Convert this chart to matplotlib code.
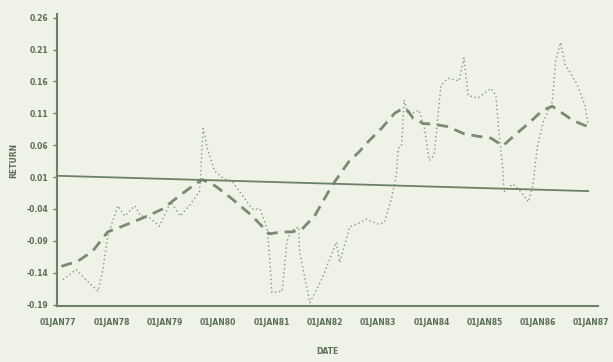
import matplotlib
matplotlib.use("Agg")
from matplotlib import pyplot as plt
import numpy as np

# monthly return series (decimal years) and its smoothed trend
ret_years = [1977.09, 1977.34, 1977.52, 1977.75, 1977.84, 1977.93, 1978.12, 1978.25,
             1978.44, 1978.55, 1978.68, 1978.90, 1979.11, 1979.29, 1979.46, 1979.65,
             1979.67, 1979.71, 1979.72, 1979.80, 1979.93, 1980.12, 1980.26, 1980.64,
             1980.79, 1980.92, 1980.96, 1981.01, 1981.20, 1981.29, 1981.35, 1981.51,
             1981.53, 1981.72, 1981.94, 1982.22, 1982.28, 1982.47, 1982.60, 1982.78,
             1983.01, 1983.12, 1983.25, 1983.34, 1983.38, 1983.44, 1983.49, 1983.57,
             1983.77, 1983.87, 1983.96, 1984.05, 1984.18, 1984.31, 1984.52, 1984.61,
             1984.69, 1984.87, 1985.12, 1985.21, 1985.26, 1985.34, 1985.36, 1985.53,
             1985.68, 1985.82, 1985.90, 1985.99, 1986.10, 1986.27, 1986.33, 1986.42,
             1986.51, 1986.61, 1986.74, 1986.88, 1986.94]
ret_values = [-0.151, -0.135, -0.151, -0.169, -0.135, -0.083, -0.035, -0.051,
              -0.035, -0.051, -0.051, -0.067, -0.029, -0.051, -0.035, -0.013,
              0.007, 0.075, 0.086, 0.055, 0.020, 0.007, 0.004, -0.040,
              -0.040, -0.072, -0.108, -0.171, -0.169, -0.092, -0.076, -0.068,
              -0.108, -0.187, -0.151, -0.092, -0.124, -0.068, -0.064, -0.056,
              -0.064, -0.061, -0.024, 0.012, 0.055, 0.059, 0.131, 0.107,
              0.115, 0.086, 0.036, 0.044, 0.154, 0.165, 0.161, 0.197,
              0.138, 0.134, 0.149, 0.138, 0.086, 0.023, -0.013, -0.001,
              -0.013, -0.029, -0.004, 0.059, 0.097, 0.129, 0.192, 0.221,
              0.186, 0.173, 0.154, 0.123, 0.091]

trend_years = [1977.06, 1977.37, 1977.65, 1977.93, 1978.21, 1978.68, 1978.96, 1979.28,
               1979.57, 1979.71, 1979.95, 1980.26, 1980.64, 1980.96, 1981.20, 1981.38,
               1981.57, 1981.81, 1982.07, 1982.19, 1982.45, 1982.65, 1982.82, 1983.06,
               1983.31, 1983.47, 1983.57, 1983.66, 1983.85, 1984.05, 1984.31, 1984.61,
               1984.87, 1985.12, 1985.34, 1985.54, 1985.86, 1986.09, 1986.27, 1986.46,
               1986.65, 1986.79, 1986.94]
trend_values = [-0.130, -0.122, -0.106, -0.076, -0.067, -0.051, -0.040, -0.019,
                -0.001, 0.006, -0.004, -0.024, -0.051, -0.079, -0.076, -0.076,
                -0.072, -0.051, -0.013, 0.003, 0.034, 0.050, 0.066, 0.086,
                0.110, 0.118, 0.113, 0.102, 0.094, 0.093, 0.089, 0.078,
                0.074, 0.071, 0.059, 0.074, 0.097, 0.115, 0.121, 0.110,
                0.099, 0.094, 0.089]

# fitted line over the whole period
fit_years = [1977.0, 1986.94]
fit_values = [0.012, -0.012]

x_ticks = [1977, 1978, 1979, 1980, 1981, 1982, 1983, 1984, 1985, 1986, 1987]
x_labels = ["01JAN77", "01JAN78", "01JAN79", "01JAN80", "01JAN81", "01JAN82",
            "01JAN83", "01JAN84", "01JAN85", "01JAN86", "01JAN87"]
y_ticks = [-0.19, -0.14, -0.09, -0.04, 0.01, 0.06, 0.11, 0.16, 0.21, 0.26]

bg = "#eef2e7"
ink = "#6d8065"
text_col = "#5c6e55"

fig = plt.figure(figsize=(6.13, 3.62), dpi=100, facecolor=bg)
ax = fig.add_axes([0.093, 0.155, 0.883, 0.805], facecolor=bg)

ax.plot(ret_years, ret_values, color=ink, lw=1.0, linestyle=(0, (1, 2)), alpha=0.8)
ax.plot(trend_years, trend_values, color=ink, lw=2.0, linestyle=(0, (4, 2.5)), alpha=0.9)
ax.plot(fit_years, fit_values, color=ink, lw=1.3)

ax.set_xlim(1976.98, 1987.13)
ax.set_ylim(-0.192, 0.265)
ax.set_xticks(x_ticks)
ax.set_xticklabels(x_labels)
ax.set_yticks(y_ticks)
ax.set_yticklabels([f"{v:.2f}" for v in y_ticks])

for side in ["top", "right"]:
    ax.spines[side].set_visible(False)
for side in ["left", "bottom"]:
    ax.spines[side].set_color(ink)
    ax.spines[side].set_linewidth(1.5)

ax.tick_params(axis="both", colors=ink, labelcolor=text_col, labelsize=5.5,
               length=3, width=1)
ax.tick_params(axis="x", length=0, pad=9)
for lab in ax.get_xticklabels() + ax.get_yticklabels():
    lab.set_fontweight("bold")

ax.set_xlabel("DATE", fontsize=5.5, color=text_col, fontweight="bold", labelpad=14)
ax.set_ylabel("RETURN", fontsize=5.5, color=text_col, fontweight="bold", labelpad=6)

fig.savefig("out.png", dpi=100, facecolor=bg)
